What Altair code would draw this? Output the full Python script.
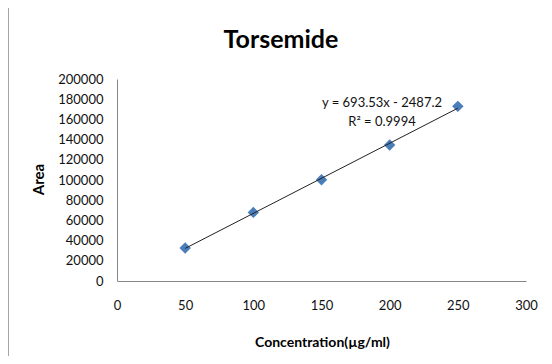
import altair as alt
import pandas as pd

concentration = [50, 100, 150, 200, 250]
area = [32700, 67900, 100300, 134600, 172900]
x_ticks = [0, 50, 100, 150, 200, 250, 300]
y_ticks = [0, 20000, 40000, 60000, 80000, 100000, 120000, 140000, 160000, 180000, 200000]
title_text = "Torsemide"
equation_text = "y = 693.53x - 2487.2"
r2_text = "R\u00b2 = 0.9994"

df = pd.DataFrame({"conc": concentration, "area": area})

FONT = "Lato"
W, H = 409, 202

xscale = alt.Scale(domain=[0, 300], nice=False)
yscale = alt.Scale(domain=[0, 200000], nice=False)

xaxis = alt.Axis(values=x_ticks, format="d", labelOverlap=False, labelFlush=False,
                 grid=False, tickSize=0, labelPadding=18,
                 labelFont=FONT, labelFontSize=13, labelColor="#111",
                 domainColor="#868686", title="Concentration(\u00b5g/ml)",
                 titleFont=FONT, titleFontSize=14, titleFontWeight="bold",
                 titleColor="#000", titleX=205, titleY=61, titleBaseline="middle",
                 titleAnchor="middle")
yaxis = alt.Axis(values=y_ticks, format="d", labelOverlap=False, labelFlush=False,
                 grid=False, tickSize=0, labelPadding=14,
                 labelFont=FONT, labelFontSize=13, labelColor="#111",
                 domainColor="#868686", title="Area",
                 titleFont=FONT, titleFontSize=15, titleFontWeight="bold",
                 titleColor="#000", titleX=-79, titleY=100, titleBaseline="middle",
                 titleAngle=-90, titleAnchor="middle")

base = alt.Chart(df)

points = base.mark_point(shape="diamond", filled=True, size=130, color="#4A7EBB", opacity=1).encode(
    x=alt.X("conc:Q", scale=xscale, axis=xaxis),
    y=alt.Y("area:Q", scale=yscale, axis=yaxis),
)

trend = base.transform_regression("conc", "area", extent=[50, 250]).mark_line(
    color="#222", strokeWidth=1
).encode(x=alt.X("conc:Q", scale=xscale, axis=xaxis), y=alt.Y("area:Q", scale=yscale, axis=yaxis))

eq = alt.Chart(pd.DataFrame({"t": [equation_text]})).mark_text(
    font=FONT, fontSize=13, color="#111", align="center", baseline="middle"
).encode(x=alt.value(265), y=alt.value(24), text="t:N")

r2 = alt.Chart(pd.DataFrame({"t": [r2_text]})).mark_text(
    font=FONT, fontSize=13, color="#111", align="center", baseline="middle"
).encode(x=alt.value(265), y=alt.value(43), text="t:N")

title = alt.Chart(pd.DataFrame({"t": [title_text]})).mark_text(
    font=FONT, fontSize=25, fontWeight="bold", color="#000", align="center",
    baseline="alphabetic"
).encode(x=alt.value(164), y=alt.value(-31), text="t:N")

border = alt.Chart(pd.DataFrame({"a": [0]})).mark_rect(
    fill="white", fillOpacity=0, stroke="#888888", strokeWidth=1.5, clip=False
).encode(x=alt.value(-109), y=alt.value(-72), x2=alt.value(460), y2=alt.value(310))

chart = alt.layer(border, points, trend, eq, r2, title).properties(
    width=W, height=H,
    background="white",
    autosize=alt.AutoSizeParams(type="none"),
    padding={"left": 109, "top": 71, "right": 18, "bottom": 75},
).configure_view(stroke=None).configure_axis(labelOverlap=False)

chart.save("out.html", embed_options={"renderer": "svg", "actions": False})
